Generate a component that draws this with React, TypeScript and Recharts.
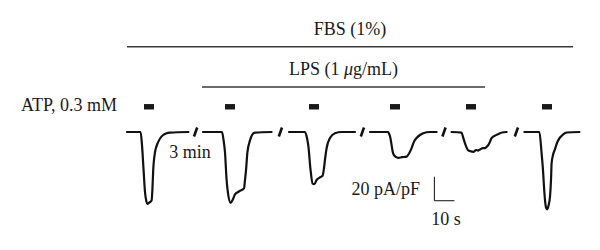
import React from 'react';
import { LineChart, Line, XAxis, YAxis, ReferenceLine, ReferenceArea, ReferenceDot } from 'recharts';

// Trace segments: [time (s), current (pA/pF)] on a concatenated time axis
const SEG1: [number, number][] = [
  [63.5, 0], [70.3, 0], [71, -11], [71.8, -32], [72.5, -50], [73.2, -58], [73.7, -60], [74.5, -59],
  [75.8, -57], [76.2, -48], [76.6, -32], [77.5, -17], [78.2, -12], [79.2, -8], [80.2, -5],
  [81.6, -2.5], [83, -1.2], [85, -0.5], [94.2, 0],
];
const SEG2: [number, number][] = [
  [101.5, 0], [111, 0], [111.8, -7], [112.5, -17], [113.3, -40], [114, -51], [115.3, -59],
  [116.5, -56], [117.5, -52], [119, -50], [120, -49], [122, -47], [122.5, -40], [123, -32],
  [123.7, -17], [125, -7], [126, -2.5], [127.5, -0.5], [135.8, 0],
];
const SEG3: [number, number][] = [
  [144.5, 0], [152.5, 0], [153.5, -5], [154.2, -12], [155.3, -32], [156.3, -43], [157.2, -43.5],
  [158.3, -40], [159.8, -38], [161.3, -36.5], [162, -30], [162.5, -23], [163.3, -13.5],
  [165, -5], [167.5, -1], [170.8, 0], [177.5, 0],
];
const SEG4: [number, number][] = [
  [185, 0], [194, 0], [195, -3.5], [196.6, -18], [197.7, -20.5], [199.2, -21.5], [201, -21],
  [203.3, -20.5], [204.5, -18], [205.8, -13.5], [207, -8], [208.3, -5], [210, -2.5],
  [211.6, -1], [215, 0], [218.3, 0],
];
const SEG5: [number, number][] = [
  [225.8, 0], [230.8, -0.5], [231.5, -4], [232.5, -9.5], [234.2, -15.5], [236.7, -16.5],
  [238, -15], [239, -15.5], [240, -14.5], [241.5, -13.5], [242.5, -13.5], [243.2, -12.5],
  [244.2, -10.8], [245.8, -5.2], [247.5, -3], [249.2, -1.7], [251, -0.4], [253.3, 0],
];
const SEG6: [number, number][] = [
  [262.2, 0], [269.7, 0], [270.8, -17.8], [271.5, -31.7], [272, -45.6], [272.5, -56.7],
  [273.1, -63.3], [273.7, -64.4], [274.2, -61.7], [275, -53.9], [275.5, -40], [275.8, -26.1],
  [276.5, -19.2], [277.5, -14.2], [278.7, -8.3], [280, -4.6], [281.5, -2.1], [283.3, -0.4],
  [289.7, 0],
];
const SEGMENTS = [SEG1, SEG2, SEG3, SEG4, SEG5, SEG6];

// Break marks ("3 min" gaps) on the time axis
const BREAKS = [97.8, 140.2, 181.2, 222, 258.2];
// ATP application markers (start times, s) and their duration
const ATP_TIMES = [72, 112.5, 154.5, 195, 233, 271];
const ATP_DURATION = 5;
// Treatment bars
const FBS_SPAN: [number, number] = [63.5, 286.5];
const LPS_SPAN: [number, number] = [101, 242.5];
// Scale bar
const SCALE_ORIGIN = { t: 217.2, i: -57.25 };
const SCALE_T = 10;
const SCALE_I = 20;

// Annotation levels (in current units above the trace)
const FBS_LEVEL = 71.1;
const LPS_LEVEL = 37.5;
const ATP_LEVEL: [number, number] = [18.75, 23.3];

const FONT = "'Liberation Serif', 'DejaVu Serif', 'Times New Roman', serif";
const FS = 18;

const toRows = (seg: [number, number][]) => seg.map(([t, i]) => ({ t, i }));

const textAt = (content: React.ReactNode, anchor: 'start' | 'middle' | 'end') => (props: any) => {
  const vb = props.viewBox || {};
  return (
    <text x={vb.x} y={vb.y} textAnchor={anchor} fontFamily={FONT} fontSize={FS} fill="#1a1a1a">
      {content}
    </text>
  );
};

const LABELS: { key: string; t: number; i: number; anchor: 'start' | 'middle' | 'end'; content: React.ReactNode }[] = [
  { key: 'fbs', t: (FBS_SPAN[0] + FBS_SPAN[1]) / 2, i: 80.8, anchor: 'middle', content: 'FBS (1%)' },
  {
    key: 'lps', t: (LPS_SPAN[0] + LPS_SPAN[1]) / 2, i: 47.5, anchor: 'middle',
    content: (<>LPS (1 <tspan fontStyle="italic">μ</tspan>g/mL)</>),
  },
  { key: 'atp', t: 58.5, i: 17.1, anchor: 'end', content: 'ATP, 0.3 mM' },
  { key: 'min', t: 95, i: -21.9, anchor: 'middle', content: '3 min' },
  { key: 'pa', t: 210, i: -52.5, anchor: 'end', content: '20 pA/pF' },
  { key: 's', t: 223, i: -77.5, anchor: 'middle', content: '10 s' },
];

export default function App() {
  return (
    <div style={{ position: 'absolute', left: 0, top: 0, width: 600, height: 250, background: '#fff' }}>
      <LineChart width={600} height={250} margin={{ top: 0, right: 0, bottom: 0, left: 0 }}>
        <XAxis type="number" dataKey="t" domain={[0, 300]} hide allowDataOverflow />
        <YAxis type="number" dataKey="i" domain={[-98.333, 110]} hide allowDataOverflow />

        <ReferenceLine
          segment={[{ x: FBS_SPAN[0], y: FBS_LEVEL }, { x: FBS_SPAN[1], y: FBS_LEVEL }]}
          stroke="#3a3a3a" strokeWidth={1.6}
        />
        <ReferenceLine
          segment={[{ x: LPS_SPAN[0], y: LPS_LEVEL }, { x: LPS_SPAN[1], y: LPS_LEVEL }]}
          stroke="#3a3a3a" strokeWidth={1.6}
        />
        {ATP_TIMES.map((t) => (
          <ReferenceArea
            key={`atp-${t}`}
            x1={t}
            x2={t + ATP_DURATION}
            y1={ATP_LEVEL[0]}
            y2={ATP_LEVEL[1]}
            fill="#1a1a1a"
            fillOpacity={1}
            stroke="none"
          />
        ))}

        {SEGMENTS.map((seg, idx) => (
          <Line
            key={`seg-${idx}`}
            data={toRows(seg)}
            dataKey="i"
            type="monotone"
            stroke="#111"
            strokeWidth={2.2}
            dot={false}
            activeDot={false}
            isAnimationActive={false}
            strokeLinejoin="round"
            strokeLinecap="round"
          />
        ))}

        {BREAKS.map((t) => (
          <ReferenceLine
            key={`brk-${t}`}
            segment={[{ x: t - 0.8, y: -3.75 }, { x: t + 0.8, y: 3.75 }]}
            stroke="#111"
            strokeWidth={2.6}
          />
        ))}

        <ReferenceLine
          segment={[{ x: SCALE_ORIGIN.t, y: SCALE_ORIGIN.i }, { x: SCALE_ORIGIN.t, y: SCALE_ORIGIN.i + SCALE_I }]}
          stroke="#222" strokeWidth={1.1}
        />
        <ReferenceLine
          segment={[{ x: SCALE_ORIGIN.t, y: SCALE_ORIGIN.i }, { x: SCALE_ORIGIN.t + SCALE_T, y: SCALE_ORIGIN.i }]}
          stroke="#222" strokeWidth={1.1}
        />

        {LABELS.map((l) => (
          <ReferenceDot
            key={l.key}
            x={l.t}
            y={l.i}
            r={0}
            fill="none"
            stroke="none"
            label={{ content: textAt(l.content, l.anchor) }}
          />
        ))}
      </LineChart>
    </div>
  );
}
